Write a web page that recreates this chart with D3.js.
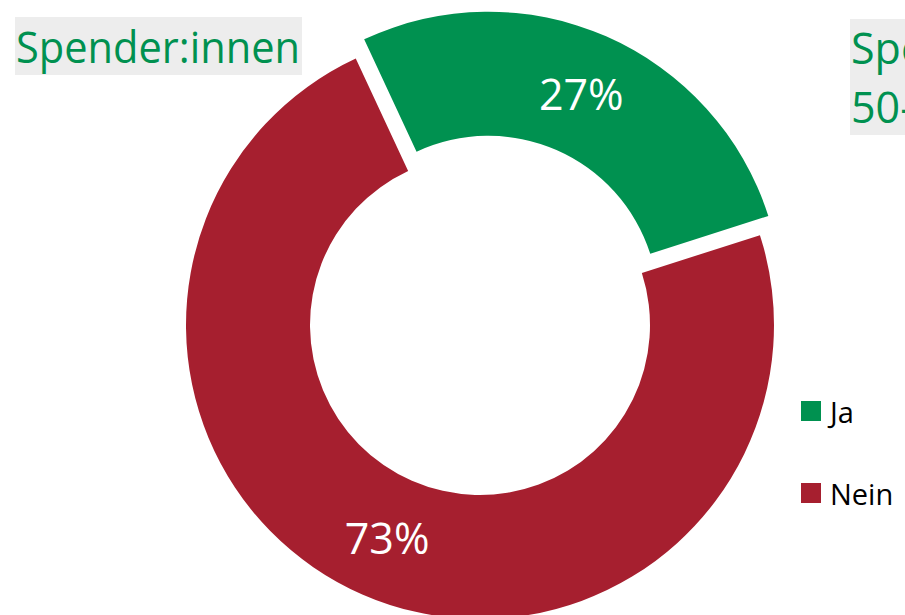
<!DOCTYPE html>
<html>
<head>
<meta charset="utf-8">
<script src="https://cdn.jsdelivr.net/npm/d3@7"></script>
<style>
  html, body { margin: 0; padding: 0; background: #fff; }
  svg { display: block; font-family: "Open Sans", "Noto Sans", sans-serif; }
</style>
</head>
<body>
<div id="chart"></div>
<script>
// Data
const categories = ["Ja", "Nein"];
const values = [27, 73];
const colors = ["#009150", "#A61F2F"];
const title = "Spender:innen";
const sideTitle = ["Spender:innen", "50-69 Jahre"];

const width = 905;
const height = 615;

const cx = 480, cy = 325;
const outerR = 294, innerR = 170;
const explode = 21;
const startDeg = -25;

const svg = d3.select("#chart")
    .append("svg")
    .attr("width", width)
    .attr("height", height);

const pie = d3.pie()
    .sort(null)
    .startAngle(startDeg * Math.PI / 180)
    .endAngle((startDeg + 360) * Math.PI / 180);

const arcs = pie(values);
const arc = d3.arc().innerRadius(innerR).outerRadius(outerR);
const labelArc = d3.arc().innerRadius(232).outerRadius(232);

const slices = svg.append("g")
    .attr("transform", `translate(${cx},${cy})`)
    .selectAll("g")
    .data(arcs)
    .join("g")
    .attr("transform", (d, i) => {
        if (i !== 0) return null;
        // pull out the first slice
        const mid = (d.startAngle + d.endAngle) / 2;
        return `translate(${Math.sin(mid) * explode},${-Math.cos(mid) * explode})`;
    });

slices.append("path")
    .attr("d", arc)
    .attr("fill", (d, i) => colors[i]);

slices.append("text")
    .attr("transform", d => `translate(${labelArc.centroid(d)})`)
    .attr("text-anchor", "middle")
    .attr("dominant-baseline", "central")
    .attr("fill", "#fff")
    .style("font-size", "43px")
    .text(d => d.data + "%");

// Title box (left)
const tg = svg.append("g");
tg.append("rect")
    .attr("x", 15).attr("y", 17)
    .attr("width", 287).attr("height", 58)
    .attr("fill", "#EDEDED");
tg.append("text")
    .attr("x", 16).attr("y", 63)
    .attr("fill", "#009150")
    .attr("textLength", 284)
    .attr("lengthAdjust", "spacingAndGlyphs")
    .style("font-size", "43px")
    .text(title);

// Neighbouring title, cut off by the right edge
const sg = svg.append("g");
sg.append("rect")
    .attr("x", 850).attr("y", 19)
    .attr("width", 120).attr("height", 116)
    .attr("fill", "#EDEDED");
sg.selectAll("text")
    .data(sideTitle)
    .join("text")
    .attr("x", 851)
    .attr("y", (d, i) => 64 + i * 59)
    .attr("fill", "#009150")
    .style("font-size", "43px")
    .text(d => d);

// Legend
const legend = svg.append("g")
    .selectAll("g")
    .data(categories)
    .join("g")
    .attr("transform", (d, i) => `translate(801,${401 + i * 82})`);

legend.append("rect")
    .attr("width", 20).attr("height", 20)
    .attr("fill", (d, i) => colors[i]);

legend.append("text")
    .attr("x", 29).attr("y", 22)
    .attr("fill", "#000")
    .style("font-size", "29px")
    .text(d => d);
</script>
</body>
</html>
